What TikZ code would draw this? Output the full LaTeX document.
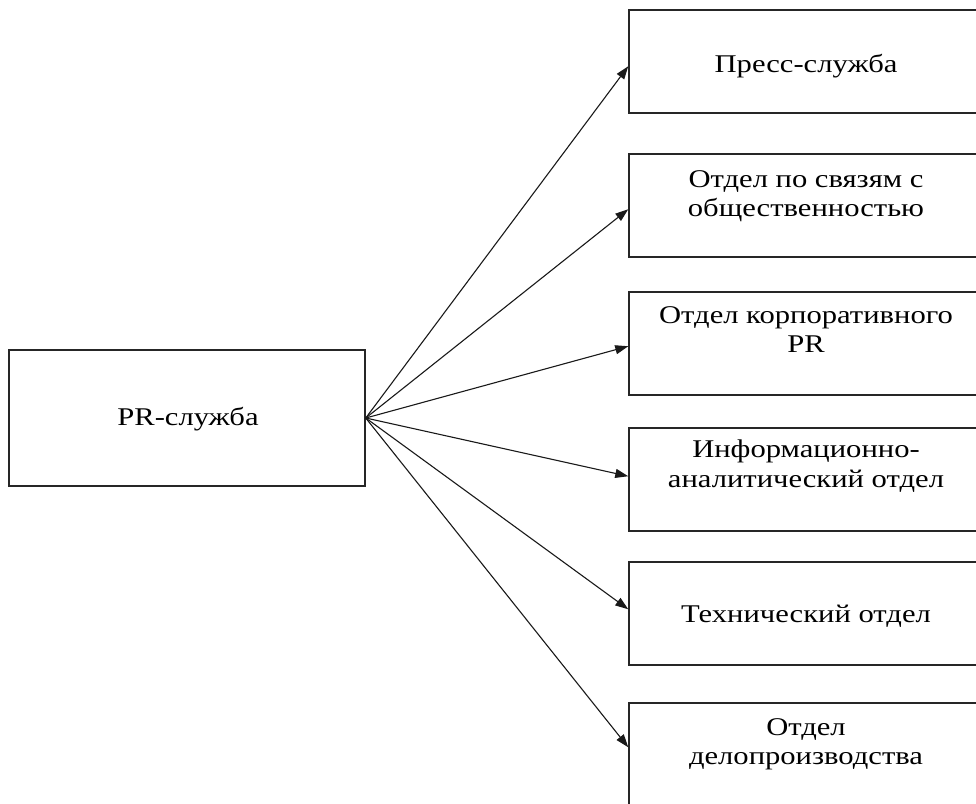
\documentclass[tikz,border=0pt]{standalone}
\usepackage{fontspec}
\setmainfont{Liberation Serif}[FakeStretch=1.2]
\usetikzlibrary{arrows.meta}
\begin{document}
\begin{tikzpicture}[x=1pt,y=-1pt,
  box/.style={draw=black!85,line width=1.5pt,minimum height=103pt,minimum width=354pt,inner sep=0pt},
  mainbox/.style={draw=black!85,line width=1.5pt,minimum height=136pt,minimum width=356pt,inner sep=0pt},
  lbl/.style={inner sep=0pt,align=center,font=\fontsize{25.5}{29.5}\selectfont},
  arr/.style={draw=black!90,line width=1.1pt,-{Triangle[length=13pt,width=9pt]}}]
\useasboundingbox (0,0) rectangle (976,803);
\begin{scope}
\clip (0,0) rectangle (976,803);
\node[mainbox] (L) at (187,418) {};
\node[lbl,anchor=base] (Lt) at (188,425) {PR-служба};
\node[box] (b1) at (806,61.5) {};
\node[box] (b2) at (806,205.5) {};
\node[box] (b3) at (806,343.5) {};
\node[box] (b4) at (806,479.5) {};
\node[box] (b5) at (806,613.5) {};
\node[box] (b6) at (806,754.5) {};
\node[lbl,anchor=base] (t1) at (806,72) {Пресс-служба};
\node[lbl,anchor=north] (t2) at (806,170) {Отдел по связям с\\общественностью};
\node[lbl,anchor=north] (t3) at (806,306) {Отдел корпоративного\\PR};
\node[lbl,anchor=north] (t4) at (806,440) {Информационно-\\аналитический отдел};
\node[lbl,anchor=base] (t5) at (806,622) {Технический отдел};
\node[lbl,anchor=north] (t6) at (806,718) {Отдел\\делопроизводства};
\draw[arr] (L.east) -- ([yshift=-57pt]b1.north west);
\draw[arr] (L.east) -- ([yshift=-56pt]b2.north west);
\draw[arr] (L.east) -- ([yshift=-55pt]b3.north west);
\draw[arr] (L.east) -- ([yshift=-49pt]b4.north west);
\draw[arr] (L.east) -- ([yshift=-48pt]b5.north west);
\draw[arr] (L.east) -- ([yshift=-45pt]b6.north west);
\end{scope}
\end{tikzpicture}
\end{document}
